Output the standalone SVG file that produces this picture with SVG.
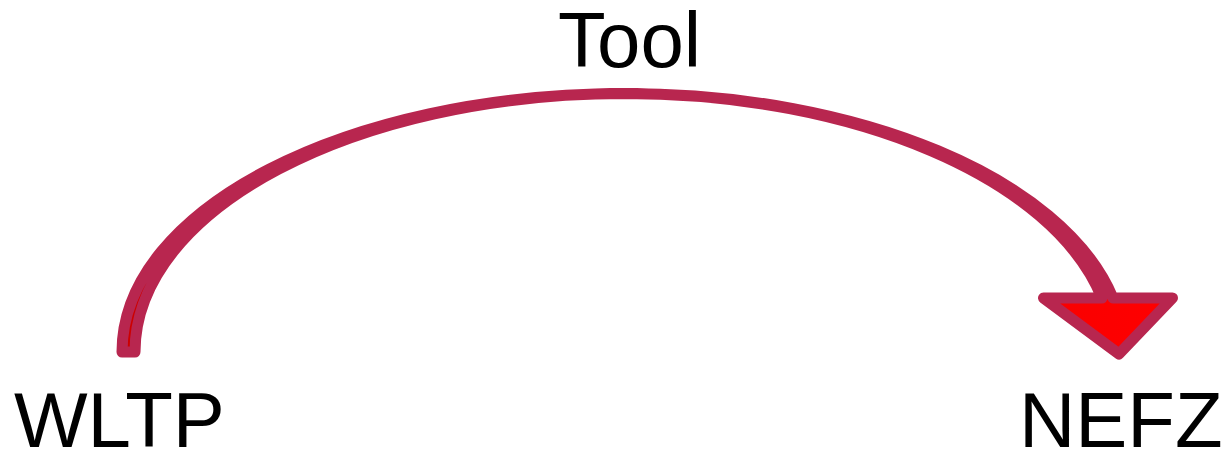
<svg xmlns="http://www.w3.org/2000/svg" width="1230" height="454" viewBox="0 0 1230 454">
<style>
.lbl{font-family:"Liberation Sans",Arial,sans-serif;font-size:78px;fill:#000}
.arrow{stroke:#B8264F;stroke-width:11;stroke-linejoin:round;stroke-linecap:round}
</style>
<defs>
<linearGradient id="g" x1="0" y1="0" x2="1" y2="0">
<stop offset="0" stop-color="#CC0000"/>
<stop offset="1" stop-color="#FF0000"/>
</linearGradient>
</defs>
<rect width="1230" height="454" fill="#fff"/>
<g id="connectors">
<path class="arrow" fill="url(#g)" d="M122,352 C122,209 347,93.5 625,93.5 C859.5,93.5 1063.3,178.5 1113,298 L1172.5,298 L1119,354 L1043.5,298 L1102,298 C1053.5,178.5 854.7,93.5 625,93.5 C354.4,93.5 135,209 135,352 Z"/>
</g>
<g id="node-tool"><text class="lbl" x="558" y="67">Tool</text></g>
<g id="node-wltp"><text class="lbl" x="14" y="447">WLTP</text></g>
<g id="node-nefz"><text class="lbl" x="1019" y="447">NEFZ</text></g>
</svg>
